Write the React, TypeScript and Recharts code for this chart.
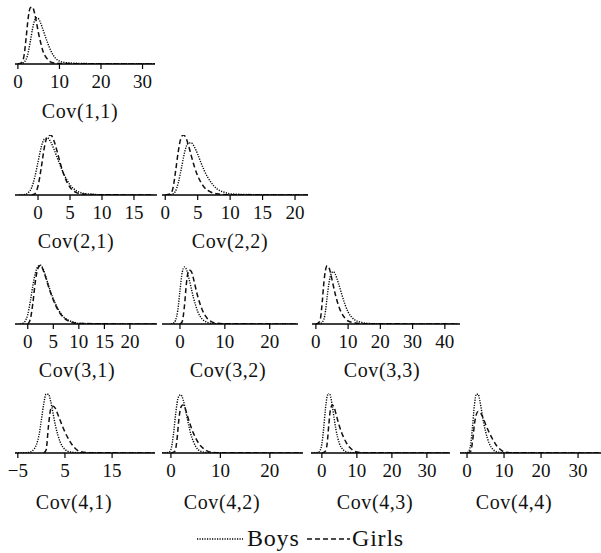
import { LineChart, Line, XAxis, YAxis } from 'recharts';

const FONT = '"Liberation Serif", "Times New Roman", serif';

// density curves, [x, height] (height 1 = tallest peak in a row)
const boys11 = [[0, 0], [1, 0.01], [2, 0.08], [2.5, 0.2], [3, 0.38], [3.5, 0.58], [4, 0.72], [4.5, 0.77], [5, 0.75], [5.5, 0.68], [6, 0.58], [7, 0.38], [8, 0.21], [9, 0.1], [10, 0.05], [12, 0.02], [15, 0.01], [20, 0.005], [33, 0.003]];
const girls11 = [[0, 0], [1, 0.03], [1.5, 0.15], [2, 0.45], [2.5, 0.78], [3, 0.94], [3.5, 0.95], [4, 0.85], [4.5, 0.68], [5, 0.5], [5.5, 0.35], [6, 0.22], [7, 0.09], [8, 0.03], [10, 0.01], [15, 0.005], [33, 0]];

const boys21 = [[-3, 0], [-2, 0.01], [-1.5, 0.04], [-1, 0.12], [-0.5, 0.3], [0, 0.55], [0.5, 0.8], [1, 0.93], [1.5, 0.95], [2, 0.88], [2.5, 0.76], [3, 0.62], [4, 0.36], [5, 0.17], [6, 0.07], [7, 0.03], [8, 0.015], [10, 0.005], [18, 0]];
const girls21 = [[-1, 0], [-0.5, 0.02], [0, 0.15], [0.5, 0.45], [1, 0.8], [1.5, 0.98], [2, 1.0], [2.5, 0.9], [3, 0.72], [3.5, 0.52], [4, 0.35], [4.5, 0.22], [5, 0.13], [6, 0.04], [7, 0.015], [10, 0.005], [18, 0]];

const boys22 = [[0, 0], [1, 0.01], [1.5, 0.05], [2, 0.2], [2.5, 0.45], [3, 0.72], [3.5, 0.86], [4, 0.87], [4.5, 0.8], [5, 0.68], [5.5, 0.54], [6, 0.41], [7, 0.22], [8, 0.1], [9, 0.05], [10, 0.02], [12, 0.01], [15, 0.005], [20, 0.003], [22, 0]];
const girls22 = [[0, 0], [0.8, 0.02], [1.2, 0.12], [1.6, 0.4], [2, 0.72], [2.4, 0.94], [2.8, 1.0], [3.2, 0.95], [3.6, 0.82], [4, 0.66], [4.5, 0.47], [5, 0.32], [5.5, 0.21], [6, 0.13], [7, 0.05], [8, 0.02], [10, 0.005], [22, 0]];

const boys31 = [[-1.5, 0], [-1, 0.01], [-0.5, 0.05], [0, 0.16], [0.5, 0.38], [1, 0.64], [1.5, 0.85], [2, 0.96], [2.5, 0.98], [3, 0.92], [3.5, 0.8], [4, 0.66], [5, 0.42], [6, 0.24], [7, 0.12], [8, 0.06], [9, 0.03], [10, 0.01], [15, 0.003], [25, 0]];
const girls31 = [[0, 0], [0.5, 0.08], [1, 0.35], [1.5, 0.72], [2, 0.93], [2.5, 0.98], [3, 0.9], [3.5, 0.78], [4, 0.64], [5, 0.4], [6, 0.22], [7, 0.11], [8, 0.05], [9, 0.02], [10, 0.01], [15, 0.003], [25, 0]];

const boys32 = [[-2, 0], [-1.5, 0.01], [-1, 0.06], [-0.5, 0.22], [0, 0.55], [0.5, 0.86], [1, 0.95], [1.5, 0.9], [2, 0.76], [2.5, 0.6], [3, 0.44], [3.5, 0.31], [4, 0.2], [5, 0.08], [6, 0.03], [7, 0.01], [8, 0.005], [10, 0], [26, 0]];
const girls32 = [[0, 0], [0.5, 0.04], [1, 0.3], [1.5, 0.72], [2, 0.9], [2.5, 0.88], [3, 0.76], [3.5, 0.6], [4, 0.45], [4.5, 0.33], [5, 0.23], [6, 0.1], [7, 0.04], [8, 0.015], [10, 0.005], [26, 0]];

const boys33 = [[0, 0], [1.5, 0.01], [2.5, 0.08], [3, 0.22], [3.5, 0.45], [4, 0.66], [4.5, 0.8], [5, 0.86], [5.5, 0.87], [6, 0.83], [7, 0.68], [8, 0.5], [9, 0.33], [10, 0.2], [11, 0.12], [12, 0.07], [14, 0.03], [16, 0.01], [20, 0.003], [44, 0]];
const girls33 = [[0, 0], [1, 0.03], [1.5, 0.12], [2, 0.38], [2.5, 0.7], [3, 0.9], [3.5, 0.97], [4, 0.95], [4.5, 0.86], [5, 0.74], [6, 0.5], [7, 0.31], [8, 0.18], [9, 0.1], [10, 0.05], [12, 0.02], [15, 0.005], [44, 0]];

const boys41 = [[-5.5, 0], [-2.5, 0.01], [-2, 0.03], [-1.5, 0.07], [-1, 0.15], [-0.5, 0.3], [0, 0.55], [0.5, 0.82], [1, 0.98], [1.5, 0.98], [2, 0.85], [2.5, 0.65], [3, 0.45], [3.5, 0.3], [4, 0.18], [5, 0.06], [6, 0.02], [8, 0.005], [24, 0]];
const girls41 = [[0.5, 0], [1, 0.05], [1.5, 0.45], [2, 0.74], [2.5, 0.78], [3, 0.74], [3.5, 0.64], [4, 0.54], [4.5, 0.44], [5, 0.35], [6, 0.2], [7, 0.09], [8, 0.03], [10, 0.005], [24, 0]];

const boys42 = [[-1.8, 0], [-0.5, 0.01], [0, 0.06], [0.5, 0.3], [1, 0.68], [1.5, 0.93], [2, 0.97], [2.5, 0.88], [3, 0.7], [3.5, 0.5], [4, 0.32], [4.5, 0.2], [5, 0.11], [6, 0.03], [7, 0.01], [8, 0.003], [26.5, 0]];
const girls42 = [[0, 0], [0.8, 0.03], [1.2, 0.2], [1.6, 0.55], [2, 0.76], [2.4, 0.8], [2.8, 0.76], [3.2, 0.66], [3.6, 0.55], [4, 0.45], [4.5, 0.34], [5, 0.25], [6, 0.12], [7, 0.05], [8, 0.015], [10, 0.005], [26.5, 0]];

const boys43 = [[-3, 0], [-1, 0.01], [-0.5, 0.04], [0, 0.15], [0.5, 0.4], [1, 0.72], [1.5, 0.94], [2, 1.0], [2.5, 0.94], [3, 0.78], [3.5, 0.58], [4, 0.4], [5, 0.16], [6, 0.06], [7, 0.02], [8, 0.008], [10, 0.002], [36.5, 0]];
const girls43 = [[0, 0], [1, 0.03], [1.5, 0.15], [2, 0.48], [2.5, 0.74], [3, 0.8], [3.5, 0.76], [4, 0.66], [4.5, 0.55], [5, 0.45], [6, 0.29], [7, 0.17], [8, 0.09], [9, 0.04], [10, 0.015], [12, 0.005], [36.5, 0]];

const boys44 = [[-1.9, 0], [0, 0.005], [0.5, 0.03], [1, 0.15], [1.5, 0.45], [2, 0.8], [2.5, 0.98], [3, 0.98], [3.5, 0.86], [4, 0.68], [4.5, 0.5], [5, 0.36], [6, 0.16], [7, 0.06], [8, 0.02], [10, 0.005], [36, 0]];
const girls44 = [[0, 0], [1, 0.03], [1.5, 0.2], [2, 0.48], [2.5, 0.64], [3, 0.69], [3.5, 0.68], [4, 0.63], [4.5, 0.56], [5, 0.48], [6, 0.34], [7, 0.22], [8, 0.12], [9, 0.06], [10, 0.02], [12, 0.005], [36, 0]];

// tick labels
const ticks11 = [0, 10, 20, 30];
const ticks21 = [0, 5, 10, 15];
const ticks22 = [0, 5, 10, 15, 20];
const ticks31 = [0, 5, 10, 15, 20];
const ticks32 = [0, 10, 20];
const ticks33 = [0, 10, 20, 30, 40];
const ticks41 = [-5, 5, 15];
const ticks42 = [0, 10, 20];
const ticks43 = [0, 10, 20, 30];
const ticks44 = [0, 10, 20, 30];

const titles = ['Cov(1,1)', 'Cov(2,1)', 'Cov(2,2)', 'Cov(3,1)', 'Cov(3,2)', 'Cov(3,3)', 'Cov(4,1)', 'Cov(4,2)', 'Cov(4,3)', 'Cov(4,4)'];
const seriesNames = ['Boys', 'Girls'];

const toPts = (arr: number[][]) => arr.map(([x, y]) => ({ x, y }));

// layout: axis extent in px, axis row, title centre
const panels = [
  { boys: boys11, girls: girls11, ticks: ticks11, domain: [-0.7, 33], left: 15, right: 155, axisY: 64, titleX: 80, titleY: 111 },
  { boys: boys21, girls: girls21, ticks: ticks21, domain: [-3.6, 18.6], left: 15, right: 157, axisY: 195, titleX: 76, titleY: 241 },
  { boys: boys22, girls: girls22, ticks: ticks22, domain: [-0.5, 22], left: 162, right: 308, axisY: 195, titleX: 230, titleY: 241 },
  { boys: boys31, girls: girls31, ticks: ticks31, domain: [-2.5, 25.3], left: 15, right: 157, axisY: 324, titleX: 77, titleY: 370 },
  { boys: boys32, girls: girls32, ticks: ticks32, domain: [-4, 26.3], left: 162, right: 298, axisY: 324, titleX: 228, titleY: 370 },
  { boys: boys33, girls: girls33, ticks: ticks33, domain: [-1.2, 44.7], left: 312, right: 460, axisY: 324, titleX: 382, titleY: 370 },
  { boys: boys41, girls: girls41, ticks: ticks41, domain: [-5.6, 24.1], left: 15, right: 155, axisY: 453, titleX: 74, titleY: 502 },
  { boys: boys42, girls: girls42, ticks: ticks42, domain: [-1.8, 26.7], left: 162, right: 303, axisY: 453, titleX: 222, titleY: 502 },
  { boys: boys43, girls: girls43, ticks: ticks43, domain: [-3.1, 36.6], left: 311, right: 450, axisY: 453, titleX: 375, titleY: 502 },
  { boys: boys44, girls: girls44, ticks: ticks44, domain: [-1.9, 36.2], left: 460, right: 601, axisY: 453, titleX: 514, titleY: 502 },
];

const PAD = 20;
const PLOT_H = 60;

function Panel({ p }: { p: (typeof panels)[number] }) {
  const w = p.right - p.left + PAD * 2;
  return (
    <div style={{ position: 'absolute', left: p.left - PAD, top: p.axisY - PLOT_H }}>
      <LineChart width={w} height={PLOT_H + 36} margin={{ top: 0, right: PAD, bottom: 0, left: PAD }}>
        <XAxis
          dataKey="x"
          type="number"
          domain={p.domain}
          allowDataOverflow
          ticks={p.ticks}
          interval={0}
          tickSize={5}
          tickMargin={6}
          height={36}
          axisLine={{ stroke: '#000', strokeWidth: 1.5 }}
          tickLine={{ stroke: '#000', strokeWidth: 1.2 }}
          tick={{ fill: '#111', fontSize: 19, fontFamily: FONT }}
          tickFormatter={(v: number) => String(v).replace('-', '\u2212')}
        />
        <YAxis hide domain={[0, 1]} allowDataOverflow />
        <Line data={toPts(p.boys)} dataKey="y" name={seriesNames[0]} type="monotone" stroke="#000" strokeWidth={1.4} strokeDasharray="1.2 1.3" dot={false} isAnimationActive={false} />
        <Line data={toPts(p.girls)} dataKey="y" name={seriesNames[1]} type="monotone" stroke="#111" strokeWidth={1.5} strokeDasharray="5 3" dot={false} isAnimationActive={false} />
      </LineChart>
    </div>
  );
}

export default function App() {
  return (
    <div style={{ position: 'fixed', left: 0, top: 0, width: 601, height: 553, background: '#fff', overflow: 'hidden', fontFamily: FONT }}>
      {panels.map((p, i) => (
        <Panel key={titles[i]} p={p} />
      ))}
      <svg width={601} height={553} style={{ position: 'absolute', left: 0, top: 0, pointerEvents: 'none' }}>
        {panels.map((p, i) => (
          <text key={titles[i]} x={p.titleX} y={p.titleY} textAnchor="middle" dominantBaseline="central" fontSize={20} letterSpacing={0.6} fill="#111" fontFamily={FONT}>
            {titles[i]}
          </text>
        ))}
        <line x1={197} x2={243} y1={539} y2={539} stroke="#000" strokeWidth={1.4} strokeDasharray="1.2 1.3" />
        <text x={247} y={538} dominantBaseline="central" fontSize={24} letterSpacing={0.8} fill="#111" fontFamily={FONT}>{seriesNames[0]}</text>
        <line x1={307} x2={350} y1={539} y2={539} stroke="#111" strokeWidth={1.5} strokeDasharray="5 3" />
        <text x={352} y={538} dominantBaseline="central" fontSize={24} letterSpacing={0.8} fill="#111" fontFamily={FONT}>{seriesNames[1]}</text>
      </svg>
    </div>
  );
}
